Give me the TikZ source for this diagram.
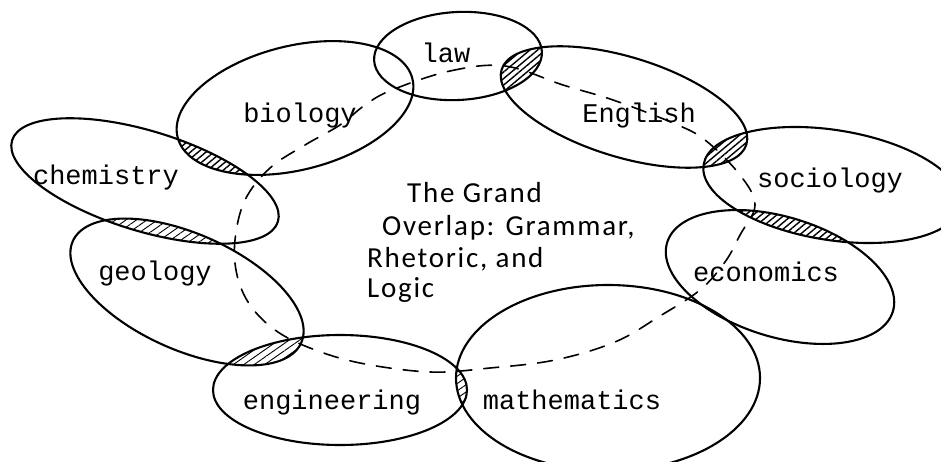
\documentclass[tikz,border=0pt]{standalone}
\usepackage{fontspec}
\newfontfamily\twfont{Liberation Mono}
\newfontfamily\handfont[LetterSpace=6]{Carlito}
\usetikzlibrary{patterns.meta}
\begin{document}
\begin{tikzpicture}[x=1pt,y=-1pt,
  outline/.style={line width=2.1pt, line join=round},
  hatch/.style={pattern={Lines[angle=40,distance=5pt,line width=1.4pt]}},
  lighthatch/.style={pattern={Lines[angle=35,distance=6pt,line width=0.9pt]}},
  loopline/.style={line width=1.6pt, dash pattern=on 15pt off 12pt, line cap=round},
  lbl/.style={font=\twfont\fontsize{27}{27}\selectfont, inner sep=0pt, anchor=base},
  hand/.style={font=\handfont\fontsize{29}{29}\selectfont, inner sep=0pt, anchor=base west},
  ellLaw/.style={rotate around={3:(458,56)}},
  ellBio/.style={rotate around={14:(295,108)}},
  ellChem/.style={rotate around={-17:(145,181)}},
  ellGeo/.style={rotate around={-24:(187,292)}},
  ellEng/.style={rotate around={0:(340,390)}},
  ellMath/.style={rotate around={0:(608,378)}},
  ellEcon/.style={rotate around={-17:(780,277)}},
  ellSoc/.style={rotate around={-9:(832,185)}},
  ellEngl/.style={rotate around={-17:(624,107)}}]
\clip (0,0) rectangle (941,462);
\fill[white] (0,0) rectangle (941,462);

% hatched overlaps
\begin{scope}\clip[ellLaw] (458,56) ellipse [x radius=84, y radius=44];
  \fill[hatch, ellEngl] (624,107) ellipse [x radius=128, y radius=50];\end{scope}
\begin{scope}\clip[ellEngl] (624,107) ellipse [x radius=128, y radius=50];
  \fill[hatch, ellSoc] (832,185) ellipse [x radius=130, y radius=55];\end{scope}
\begin{scope}\clip[ellSoc] (832,185) ellipse [x radius=130, y radius=55];
  \fill[hatch, ellEcon] (780,277) ellipse [x radius=118, y radius=60];\end{scope}
\begin{scope}\clip[ellEcon] (780,277) ellipse [x radius=118, y radius=60];
  \fill[hatch, ellMath] (608,378) ellipse [x radius=152, y radius=93];\end{scope}
\begin{scope}\clip[ellMath] (608,378) ellipse [x radius=152, y radius=93];
  \fill[lighthatch, ellEng] (340,390) ellipse [x radius=127, y radius=55];\end{scope}
\begin{scope}\clip[ellEng] (340,390) ellipse [x radius=127, y radius=55];
  \fill[lighthatch, ellGeo] (187,292) ellipse [x radius=125, y radius=58];\end{scope}
\begin{scope}\clip[ellGeo] (187,292) ellipse [x radius=125, y radius=58];
  \fill[lighthatch, ellChem] (145,181) ellipse [x radius=139, y radius=50];\end{scope}
\begin{scope}\clip[ellChem] (145,181) ellipse [x radius=139, y radius=50];
  \fill[hatch, ellBio] (295,108) ellipse [x radius=121, y radius=62];\end{scope}

% outlines
\draw[outline, ellLaw]  (458,56)  ellipse [x radius=84,  y radius=44];
\draw[outline, ellBio]  (295,108) ellipse [x radius=121, y radius=62];
\draw[outline, ellChem] (145,181) ellipse [x radius=139, y radius=50];
\draw[outline, ellGeo]  (187,292) ellipse [x radius=125, y radius=58];
\draw[outline, ellEng]  (340,390) ellipse [x radius=127, y radius=55];
\draw[outline, ellMath] (608,378) ellipse [x radius=152, y radius=93];
\draw[outline, ellEcon] (780,277) ellipse [x radius=118, y radius=60];
\draw[outline, ellSoc]  (832,185) ellipse [x radius=130, y radius=55];
\draw[outline, ellEngl] (624,107) ellipse [x radius=128, y radius=50];

% dashed loop
\draw[loopline] plot[smooth cycle, tension=0.6] coordinates {
  (392,90) (450,71) (505,66) (563,85) (613,100) (673,123) (705,140)
  (740,175) (755,205) (740,235) (725,262) (700,290) (660,316) (615,342)
  (555,360) (490,368) (430,372) (360,363) (310,348) (275,330) (250,305)
  (237,275) (235,240) (245,200) (270,168) (305,145) (340,125) (365,105)};

% labels
\node[lbl] (law) at (446,63) {law};
\node[lbl] (biology) at (300,123) {biology};
\node[lbl] (english) at (639,123) {English};
\node[lbl] (chemistry) at (106,185) {chemistry};
\node[lbl] (sociology) at (830,188) {sociology};
\node[lbl] (geology) at (155,280) {geology};
\node[lbl] (economics) at (766,281) {economics};
\node[lbl] (engineering) at (332,409) {engineering};
\node[lbl] (mathematics) at (572,409) {mathematics};

% handwritten centre text
\node[hand] (t1) at (407,203) {The Grand};
\node[hand] (t2) at (382,235) {Overlap: Grammar,};
\node[hand] (t3) at (367,267) {Rhetoric, and};
\node[hand] (t4) at (367,297) {Logic};
\end{tikzpicture}
\end{document}
